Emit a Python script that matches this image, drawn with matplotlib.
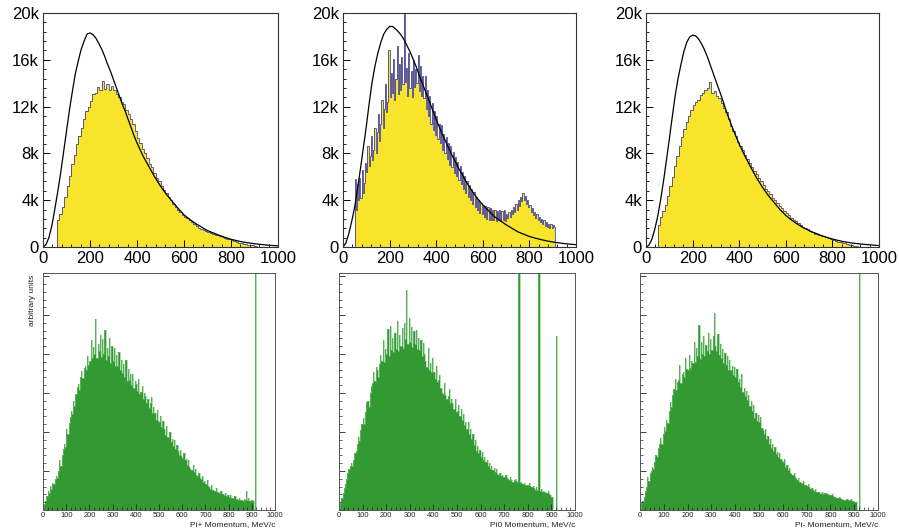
import numpy as np
import matplotlib
matplotlib.use('Agg')
import matplotlib.pyplot as plt
from matplotlib.ticker import MultipleLocator, FuncFormatter

plt.rcParams['font.family'] = ['Liberation Sans', 'DejaVu Sans']

# ---- top row: reconstructed spectra, counts in thousands
piPlusTopStart, piPlusTopBin = 60, 10
piPlusTop = [2.3, 2.8, 3.4, 4.3,
             5.2, 6.1, 7.1, 7.9, 8.8, 9.5, 10.2, 10.9, 11.6, 12.0,
             12.5, 13.1, 13.2, 13.7, 13.4, 14.2, 13.5, 13.9, 13.4, 13.8,
             13.4, 13.1, 12.8, 12.4, 12.2, 11.7, 11.4, 10.9, 10.5, 9.9,
             9.3, 8.9, 8.4, 8.0, 7.6, 7.1, 6.8, 6.3, 5.9, 5.6,
             5.2, 4.9, 4.6, 4.3, 4.0, 3.7, 3.4, 3.2, 2.95, 2.75,
             2.6, 2.45, 2.3, 2.1, 1.95, 1.8, 1.65, 1.55, 1.45, 1.35,
             1.25, 1.2, 1.1, 1.05, 1.0, 0.95, 0.85, 0.8, 0.72, 0.66,
             0.6, 0.52, 0.45, 0.38, 0.33, 0.28, 0.24, 0.2, 0.17, 0.14,
             0.1]
pi0TopStart, pi0TopBin = 50, 5
pi0Top = [5.8, 3.2, 5.4, 4.0, 5.9, 4.2, 6.6, 4.6, 5.5, 7.2,
          6.4, 8.6, 6.9, 7.8, 9.5, 7.4, 8.3, 10.2, 8.0, 9.8,
          11.4, 9.1, 10.5, 12.6, 10.2, 11.8, 13.9, 11.5, 12.4, 16.8,
          12.8, 14.9, 13.2, 16.1, 12.6, 14.4, 17.2, 13.1, 15.6, 13.4,
          16.2, 13.9, 20.5, 14.1, 15.3, 12.9, 16.6, 13.6, 15.0, 12.8,
          16.0, 13.7, 15.2, 14.0, 16.4, 13.3, 15.5, 12.9, 14.6, 12.7,
          14.6, 11.8, 13.4, 11.2, 12.9, 10.5, 12.3, 10.0, 11.6, 9.6,
          11.2, 9.2, 10.5, 8.9, 10.4, 8.3, 9.7, 8.0, 9.4, 7.5,
          8.9, 7.0, 8.6, 6.8, 8.1, 6.3, 7.7, 6.1, 7.3, 5.7,
          6.9, 5.4, 6.4, 5.0, 6.1, 4.6, 5.6, 4.3, 5.3, 4.0,
          5.0, 3.7, 4.7, 3.4, 4.3, 3.2, 4.0, 2.9, 3.8, 2.8,
          3.6, 2.6, 3.5, 2.4, 3.4, 2.3, 3.3, 2.3, 3.2, 2.3,
          3.2, 2.2, 3.1, 2.3, 3.2, 2.2, 3.1, 2.3, 3.2, 2.2,
          2.8, 2.5, 3.0, 2.6, 3.2, 2.8, 3.4, 3.0, 3.7, 3.2,
          4.0, 3.5, 4.3, 3.9, 4.6, 4.0, 4.4, 3.7, 4.0, 3.4,
          3.6, 3.0, 3.3, 2.7, 3.0, 2.5, 2.8, 2.3, 2.6, 2.1,
          2.4, 2.0, 2.3, 1.8, 2.1, 1.7, 2.0, 1.6, 2.0, 1.6,
          1.9, 1.7]
piMinusTopStart, piMinusTopBin = 50, 10
piMinusTop = [1.9, 2.6, 3.1, 3.6, 4.4,
              5.2, 6.0, 6.9, 7.8, 8.6, 9.4, 10.1, 10.7, 11.2, 11.7,
              12.1, 12.4, 12.6, 13.0, 13.2, 13.4, 13.6, 14.1, 13.2, 13.3,
              12.9, 12.7, 12.3, 11.9, 11.5, 10.9, 10.3, 9.9, 9.5, 9.0,
              8.6, 8.3, 7.9, 7.5, 7.2, 6.8, 6.5, 6.2, 5.9, 5.6,
              5.3, 5.0, 4.8, 4.5, 4.2, 4.0, 3.8, 3.5, 3.3, 3.1,
              2.9, 2.7, 2.5, 2.35, 2.2, 2.05, 1.9, 1.75, 1.6, 1.5,
              1.35, 1.25, 1.15, 1.08, 1.0, 0.95, 0.9, 0.82, 0.75, 0.68,
              0.6, 0.52, 0.45, 0.4, 0.35, 0.3, 0.25, 0.2, 0.15, 0.12,
              0.08]

# expected distributions (black curves), thousands
curveMomentum = [0, 12.5, 25, 37.5, 50, 62.5, 75, 87.5, 100, 112.5, 125, 137.5,
                 150, 162.5, 175, 187.5, 200, 212.5, 225, 237.5, 250, 262.5,
                 275, 287.5, 300, 312.5, 325, 337.5, 350, 362.5, 375, 387.5,
                 400, 425, 450, 475, 500, 525, 550, 575, 600, 625, 650, 675,
                 700, 725, 750, 775, 800, 825, 850, 875, 900, 925, 950, 975, 1000]
piPlusCurve = [0, 0.2, 0.8, 1.8, 3.2, 4.7, 6.3, 8.1, 9.9, 11.7, 13.3, 14.8,
               15.9, 16.9, 17.6, 18.2, 18.3, 18.15, 17.85, 17.4, 16.9, 16.3,
               15.6, 15.0, 14.3, 13.6, 12.9, 12.2, 11.6, 10.9, 10.2, 9.5,
               8.9, 7.8, 6.9, 6.0, 5.2, 4.5, 3.9, 3.3, 2.75, 2.35, 2.0, 1.7,
               1.4, 1.2, 1.0, 0.82, 0.66, 0.54, 0.43, 0.35, 0.28, 0.22, 0.17, 0.13, 0.1]
pi0Curve = [0, 0.35, 1.15, 2.2, 3.4, 5.0, 6.7, 8.5, 10.3, 12.3, 14.1, 15.5,
            16.6, 17.5, 18.2, 18.6, 18.85, 18.85, 18.65, 18.4, 18.1, 17.7,
            17.2, 16.7, 16.1, 15.5, 14.8, 14.15, 13.5, 12.85, 12.2, 11.55,
            10.9, 9.7, 8.6, 7.55, 6.6, 5.7, 4.9, 4.2, 3.6, 3.1, 2.6, 2.25,
            1.9, 1.6, 1.3, 1.1, 0.9, 0.76, 0.63, 0.52, 0.43, 0.36, 0.29, 0.24, 0.2]
piMinusCurve = [0, 0.15, 0.65, 1.5, 2.6, 4.0, 5.6, 7.4, 9.2, 11.1, 12.9, 14.4,
                15.6, 16.7, 17.5, 17.95, 18.1, 18.05, 17.8, 17.4, 16.9, 16.3,
                15.6, 14.9, 14.2, 13.5, 12.8, 12.05, 11.3, 10.65, 10.0, 9.4,
                8.8, 7.75, 6.8, 5.9, 5.1, 4.4, 3.8, 3.2, 2.7, 2.3, 1.95, 1.65,
                1.4, 1.2, 1.0, 0.83, 0.68, 0.56, 0.45, 0.37, 0.3, 0.25, 0.2, 0.16, 0.12]

# ---- bottom row: generated momenta, 5 MeV/c bins from 0 to 925, arbitrary units
bottomBinWidth = 5
piPlusBottom = [0.8, 1.6, 2.4, 3.5, 4.9, 4.3, 6.1, 5.4, 7.0, 6.6,
                7.9, 8.8, 8.2, 10.1, 12.8, 11.4, 14.0, 15.6, 17.0, 16.2,
                20.7, 19.4, 22.3, 23.8, 25.5, 24.6, 27.9, 26.8, 29.8, 31.5,
                32.2, 30.8, 34.0, 35.6, 33.9, 36.4, 37.0, 35.8, 39.6, 37.2,
                38.3, 43.5, 39.1, 41.8, 40.1, 49.0, 38.9, 42.6, 40.7, 44.8,
                39.2, 43.9, 40.1, 46.2, 38.6, 41.5, 39.5, 44.1, 37.8, 42.0,
                38.3, 41.6, 36.9, 39.8, 37.0, 40.5, 35.9, 38.4, 35.2, 37.5,
                34.0, 38.6, 33.1, 36.2, 33.4, 35.0, 32.0, 34.8, 31.3, 33.2,
                32.2, 30.5, 33.6, 29.8, 30.4, 31.9, 28.6, 30.0, 29.2, 27.5,
                28.4, 26.1, 27.4, 28.9, 25.0, 26.3, 24.9, 23.2, 25.6, 22.8,
                22.5, 24.0, 21.2, 22.8, 20.7, 19.3, 21.5, 18.6, 18.8, 19.9,
                17.4, 18.2, 16.4, 17.9, 15.6, 16.8, 15.2, 14.1, 15.5, 13.9,
                13.4, 14.6, 12.8, 13.2, 11.6, 12.9, 11.1, 10.5, 10.3, 11.6,
                9.8, 10.4, 9.1, 8.6, 9.5, 8.2, 7.9, 8.6, 7.2, 7.5,
                6.7, 7.6, 6.2, 6.0, 5.5, 6.4, 5.2, 5.0, 4.9, 5.6,
                4.6, 4.5, 4.3, 5.0, 4.0, 4.1, 3.8, 4.4, 3.6, 3.9,
                3.4, 3.9, 3.2, 3.0, 3.0, 3.6, 2.8, 2.7, 2.6, 3.1,
                2.5, 2.6, 2.4, 2.9, 2.6, 4.8, 2.6, 3.0, 2.4, 2.6,
                2.5, 2.2, 0, 70, 0]
pi0Bottom = [0.5, 1.8, 3.0, 4.3, 5.6, 6.7, 8.0, 9.4, 10.6, 11.2,
             12.0, 11.4, 12.8, 14.5, 15.2, 17.0, 18.8, 17.6, 20.4, 22.1,
             23.7, 22.0, 25.2, 27.6, 28.0, 26.4, 30.1, 31.8, 32.5, 35.4,
             33.0, 36.8, 35.9, 34.2, 37.5, 39.8, 38.3, 43.6, 37.9, 41.2,
             40.1, 46.5, 39.4, 47.2, 41.0, 44.1, 40.6, 45.3, 41.3, 48.6,
             40.8, 44.9, 42.0, 46.8, 41.5, 47.9, 43.8, 56.5, 42.7, 49.2,
             43.2, 47.0, 41.9, 45.8, 42.6, 46.3, 41.4, 44.0, 41.0, 43.5,
             39.6, 42.8, 40.1, 38.2, 36.8, 41.5, 35.9, 37.6, 35.3, 38.9,
             35.3, 33.6, 36.9, 32.8, 33.4, 34.7, 31.2, 30.0, 29.8, 32.5,
             29.6, 28.4, 29.2, 31.0, 27.5, 28.6, 27.4, 26.0, 28.4, 25.2,
             25.5, 27.0, 24.1, 25.8, 23.1, 24.6, 21.8, 22.5, 20.7, 22.6,
             19.4, 20.9, 18.2, 19.6, 16.8, 17.9, 15.2, 16.5, 14.6, 15.3,
             13.7, 14.8, 12.9, 13.6, 12.2, 12.9, 11.4, 12.0, 10.6, 11.3,
             10.2, 10.8, 9.7, 10.4, 9.3, 9.0, 9.6, 8.8, 9.0, 8.5,
             8.5, 9.1, 8.2, 7.9, 7.7, 8.4, 7.6, 7.3, 7.7, 8.0,
             7.4, 7.1, 70, 7.3, 6.9, 6.6, 6.7, 7.0, 6.3, 6.5,
             6.4, 6.8, 6.2, 6.0, 6.1, 5.7, 5.2, 5.8, 5.2, 70,
             4.9, 5.3, 4.7, 5.0, 4.5, 4.3, 4.3, 4.8, 4.0, 3.8,
             3.4, 0, 0, 0, 44.7]
piMinusBottom = [0.6, 1.8, 2.4, 3.4, 4.8, 6.0, 8.5, 7.4, 9.6, 10.1,
                 11.0, 10.4, 12.2, 14.1, 13.5, 15.8, 17.0, 18.4, 16.9, 19.6,
                 21.3, 20.2, 23.0, 22.4, 25.5, 27.8, 26.4, 29.4, 31.0, 33.6,
                 30.7, 32.8, 33.4, 37.2, 32.5, 34.8, 35.3, 34.0, 38.9, 36.1,
                 35.9, 39.8, 36.4, 38.2, 37.7, 43.0, 38.0, 41.6, 39.5, 47.4,
                 38.8, 43.2, 40.1, 44.6, 39.6, 42.3, 40.7, 45.5, 39.9, 43.8,
                 41.0, 44.6, 50.5, 42.1, 40.7, 45.2, 39.8, 42.6, 38.9, 41.4,
                 37.6, 40.2, 37.1, 39.5, 36.0, 38.4, 35.9, 37.0, 34.6, 36.8,
                 34.0, 36.2, 32.9, 33.5, 31.6, 34.8, 30.4, 31.2, 29.2, 30.6,
                 28.1, 29.5, 26.8, 28.0, 25.4, 26.9, 23.7, 25.0, 22.8, 24.4,
                 22.5, 23.8, 21.0, 20.4, 19.5, 20.8, 18.1, 18.9, 17.0, 18.2,
                 16.0, 16.9, 15.2, 16.1, 14.4, 14.9, 13.7, 14.5, 13.0, 12.6,
                 12.2, 13.0, 11.1, 11.6, 10.3, 10.9, 9.6, 9.2, 9.0, 9.6,
                 8.4, 8.0, 7.7, 8.3, 7.3, 7.0, 6.9, 7.4, 6.5, 6.3,
                 6.1, 6.6, 5.8, 5.5, 5.6, 5.2, 4.9, 5.3, 4.7, 4.5,
                 4.6, 4.2, 4.3, 4.6, 4.1, 4.4, 4.3, 4.0, 4.2, 3.9,
                 3.8, 4.1, 3.6, 3.4, 3.4, 3.2, 3.1, 3.3, 3.0, 2.8,
                 2.8, 2.6, 2.6, 2.9, 2.7, 2.5, 2.6, 2.8, 2.4, 2.3,
                 2.1, 2.0, 0, 0, 70]
bottomLabels = ['Pi+ Momentum, MeV/c', 'Pi0 Momentum, MeV/c', 'Pi- Momentum, MeV/c']

W, H = 899, 530


def box(x0, y0, x1, y1):
    return [x0 / W, 1 - y1 / H, (x1 - x0) / W, (y1 - y0) / H]


def kFormat(v, pos):
    return '0' if abs(v) < 1e-9 else '%dk' % round(v)


fig = plt.figure(figsize=(W / 100, H / 100), dpi=100)

topBoxes = [(43, 13, 278, 247), (343, 13, 576, 247), (646, 13, 879, 247)]
topData = [(piPlusTopStart, piPlusTopBin, piPlusTop, piPlusCurve),
           (pi0TopStart, pi0TopBin, pi0Top, pi0Curve),
           (piMinusTopStart, piMinusTopBin, piMinusTop, piMinusCurve)]

for b, (start, width, vals, curve) in zip(topBoxes, topData):
    ax = fig.add_axes(box(*b))
    edges = start + np.arange(len(vals) + 1) * width
    ax.stairs(vals, edges, fill=True, color='#f8e52b', lw=0)
    ax.stairs(vals, edges, color='#24249c', lw=0.6, alpha=0.85)
    ax.plot(curveMomentum, curve, color='black', lw=0.9)
    ax.set_xlim(0, 1000)
    ax.set_ylim(0, 20)
    ax.xaxis.set_major_locator(MultipleLocator(200))
    ax.xaxis.set_minor_locator(MultipleLocator(40))
    ax.yaxis.set_major_locator(MultipleLocator(4))
    ax.yaxis.set_minor_locator(MultipleLocator(0.8))
    ax.yaxis.set_major_formatter(FuncFormatter(kFormat))
    ax.tick_params(which='major', direction='in', length=5, width=0.7,
                   labelsize=12, pad=3)
    ax.tick_params(which='minor', direction='in', length=2.5, width=0.6)
    for s in ax.spines.values():
        s.set_linewidth(0.8)
        s.set_color('#333333')

bottomBoxes = [(43, 273, 275, 510), (339, 273, 575, 510), (640, 273, 878, 510)]
bottomData = [piPlusBottom, pi0Bottom, piMinusBottom]

for b, vals, label in zip(bottomBoxes, bottomData, bottomLabels):
    ax = fig.add_axes(box(*b))
    edges = np.arange(len(vals) + 1) * bottomBinWidth
    ax.stairs(vals, edges, fill=True, color='#339933', lw=0)
    ax.stairs(vals, edges, color='#78c278', lw=0.4)
    ax.set_xlim(0, 1000)
    ax.set_ylim(0, 60.8)
    ax.xaxis.set_major_locator(MultipleLocator(100))
    ax.xaxis.set_minor_locator(MultipleLocator(20))
    ax.yaxis.set_major_locator(MultipleLocator(10))
    ax.yaxis.set_minor_locator(MultipleLocator(2))
    ax.tick_params(which='major', direction='in', length=4.5, width=0.6,
                   labelsize=5.4, pad=1.5, colors='#222222')
    ax.tick_params(which='minor', direction='in', length=2.5, width=0.5,
                   colors='#222222')
    ax.tick_params(axis='y', labelleft=False)
    ax.text(1.0, -0.063, label, transform=ax.transAxes, ha='right',
            va='center', fontsize=6, color='#222222')
    for s in ax.spines.values():
        s.set_linewidth(0.7)
        s.set_color('#555555')

fig.text(33 / W, 1 - 275 / H, 'arbitrary units', rotation=90, ha='center',
         va='top', fontsize=6, color='#222222')

fig.savefig('out.png', dpi=100)
